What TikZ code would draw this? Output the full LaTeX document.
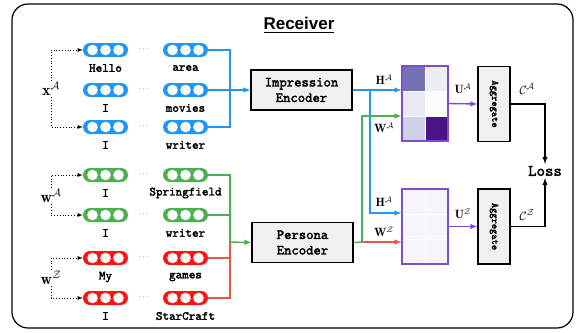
\documentclass[tikz,border=0pt]{standalone}
\usepackage{amsfonts, amsmath, amssymb}
\usepackage{fontspec}
\newfontfamily\titlefont{Liberation Sans}
\setmonofont{lmmono10-regular}[Extension=.otf, BoldFont=lmmono10-regular, BoldFeatures={FakeBold=2.2}]
\usepackage{tikz}
\usetikzlibrary{arrows,calc}

\definecolor{tokblue}{RGB}{33,150,243}
\definecolor{tokgreen}{RGB}{76,175,80}
\definecolor{tokred}{RGB}{255,20,20}
\definecolor{linered}{RGB}{240,85,74}
\definecolor{mpurple}{RGB}{123,79,201}
\definecolor{encgray}{RGB}{240,240,240}
\definecolor{zcell}{RGB}{245,244,250}

\tikzset{
  pill/.style={rectangle, rounded corners=7pt, minimum width=45pt, minimum height=14pt, inner sep=0pt, fill=#1},
  toklabel/.style={font=\fontsize{12.5}{12.5}\selectfont\ttfamily\bfseries, inner sep=0pt},
  encoder/.style={draw, line width=1.2pt, fill=encgray, minimum width=101pt, minimum height=40pt, align=center,
    font=\fontsize{14}{15.5}\selectfont\ttfamily\bfseries},
  aggbox/.style={draw, line width=1.2pt, fill=encgray, minimum width=32pt, minimum height=75pt, inner sep=0pt},
  matbox/.style={draw=mpurple, line width=1.2pt, minimum width=46pt, minimum height=75pt, inner sep=0pt},
  conn/.style={line width=1.4pt},
  bracket/.style={dotted, line width=0.8pt},
  mlabel/.style={font=\fontsize{12}{12}\selectfont, inner sep=1pt},
  vlabel/.style={font=\fontsize{16}{16}\selectfont, inner sep=1pt, fill=white},
}

% one token vector: name, x, y, colour
\newcommand{\tokvec}[4]{
  \node[pill=#4] (#1) at (#2,#3) {};
  \foreach \dx in {-13,0,13}
    \fill[white] ($(#1)+(\dx,0)$) circle (5.3);
}

\begin{document}
\begin{tikzpicture}[x=1pt,y=-1pt,>=latex]
\useasboundingbox (0,0) rectangle (577,332);
\draw[line width=1.2pt, rounded corners=16pt] (12,4) rectangle (573,328);
\node[font=\fontsize{17}{17}\selectfont\titlefont\bfseries] (title) at (299,25) {\underline{Receiver}};

% token rows
\tokvec{b1l}{105.5}{50}{tokblue}   \tokvec{b1r}{185.5}{50}{tokblue}
\tokvec{b2l}{105.5}{90}{tokblue}   \tokvec{b2r}{185.5}{90}{tokblue}
\tokvec{b3l}{105.5}{127}{tokblue}  \tokvec{b3r}{185.5}{127}{tokblue}
\tokvec{g1l}{105.5}{175}{tokgreen} \tokvec{g1r}{185.5}{175}{tokgreen}
\tokvec{g2l}{105.5}{215}{tokgreen} \tokvec{g2r}{185.5}{215}{tokgreen}
\tokvec{r1l}{105.5}{258}{tokred}   \tokvec{r1r}{185.5}{258}{tokred}
\tokvec{r2l}{105.5}{298}{tokred}   \tokvec{r2r}{185.5}{298}{tokred}
\foreach \y in {50,90,127,175,215,258,298}
  \node[font=\scriptsize, inner sep=0pt] at (144,\y-1) {$\cdots$};

\node[toklabel] (t1l) at (105.5,68) {Hello};   \node[toklabel] (t1r) at (185.5,68) {area};
\node[toklabel] (t2l) at (105.5,108) {I};      \node[toklabel] (t2r) at (185.5,108) {movies};
\node[toklabel] (t3l) at (105.5,145) {I};      \node[toklabel] (t3r) at (185.5,145) {writer};
\node[toklabel] (t4l) at (105.5,193) {I};      \node[toklabel] (t4r) at (185.5,193) {Springfield};
\node[toklabel] (t5l) at (105.5,233) {I};      \node[toklabel] (t5r) at (185.5,233) {writer};
\node[toklabel] (t6l) at (105.5,277) {My};     \node[toklabel] (t6r) at (185.5,277) {games};
\node[toklabel] (t7l) at (105.5,316) {I};      \node[toklabel] (t7r) at (185.5,316) {StarCraft};

% input brackets
\node[vlabel] (xA) at (51,89) {$\mathbf{x}^{\mathcal{A}}$};
\node[vlabel] (wA) at (51,196) {$\mathbf{w}^{\mathcal{A}}$};
\node[vlabel] (wZ) at (51,278) {$\mathbf{w}^{\mathcal{Z}}$};
\draw[bracket,->] (xA) |- (b1l.west);
\draw[bracket,->] (xA) |- (b3l.west);
\draw[bracket,->] (wA) |- (g1l.west);
\draw[bracket,->] (wA) |- (g2l.west);
\draw[bracket,->] (wZ) |- (r1l.west);
\draw[bracket,->] (wZ) |- (r2l.west);

% encoders
\node[encoder] (encI) at (301.5,90) {Impression\\Encoder};
\node[encoder] (encP) at (302.5,242.5) {Persona\\Encoder};

\coordinate (jI) at (230,90);
\coordinate (jP) at (230,242);
\draw[conn,tokblue] (b1r.east) -| (jI);
\draw[conn,tokblue] (b3r.east) -| (jI);
\draw[conn,tokblue,->] (b2r.east) -- (encI.west);
\draw[conn,linered] (r1r.east) -| (jP);
\draw[conn,linered] (r2r.east) -| (jP);
\draw[conn,tokgreen] (g1r.east) -| (jP);
\draw[conn,tokgreen] (g2r.east) -| (jP);
\draw[conn,tokgreen,->] (jP) -- (encP.west);

% matrices
\foreach \c/\x/\y in {117 112 179/402/66, 238 237 245/425/66,
                      233 232 243/402/91, 251 250 253/425/91,
                      208 208 230/402/116, 74 20 134/425/116}{
  \definecolor{cellc}{RGB}{\c}
  \fill[cellc, draw=white, line width=0.8pt] (\x,\y) rectangle ++(23,25);
}
\foreach \x in {402,425}
  \foreach \y in {189,214,239}
    \fill[zcell, draw=white, line width=0.8pt] (\x,\y) rectangle ++(23,25);
\node[matbox] (mA) at (425,103.5) {};
\node[matbox] (mZ) at (425,226.5) {};

% encoder outputs
\coordinate (hs) at (370,90);
\coordinate (ws) at (362,242);
\draw[conn,tokblue,->] (encI.east) -- (encI.east -| mA.west);
\draw[conn,tokblue,->] (hs) |- (mZ.west |- 0,213);
\draw[conn,tokgreen] (encP.east) -- (ws);
\draw[conn,tokgreen,->] (ws) |- (mA.west |- 0,116);
\draw[conn,linered,->] (ws) -- (ws -| mZ.west);
\node[mlabel] (hA1) at (384,80) {$\mathbf{H}^{\mathcal{A}}$};
\node[mlabel] (wA1) at (384,128) {$\mathbf{W}^{\mathcal{A}}$};
\node[mlabel] (hA2) at (384,202) {$\mathbf{H}^{\mathcal{A}}$};
\node[mlabel] (wZ1) at (384,232) {$\mathbf{W}^{\mathcal{Z}}$};

% aggregation
\node[aggbox] (aggA) at (494,104) {};
\node[aggbox] (aggZ) at (494,226.5) {};
\node[font=\fontsize{10}{10}\selectfont\ttfamily\bfseries, rotate=-90] at (aggA) {Aggregate};
\node[font=\fontsize{10}{10}\selectfont\ttfamily\bfseries, rotate=-90] at (aggZ) {Aggregate};
\draw[conn,mpurple,->] (mA.east) -- (aggA.west);
\draw[conn,mpurple,->] (mZ.east) -- (aggZ.west);
\node[mlabel] (uA) at (463,89) {$\mathbf{U}^{\mathcal{A}}$};
\node[mlabel] (uZ) at (463,214) {$\mathbf{U}^{\mathcal{Z}}$};

\node[font=\fontsize{16}{16}\selectfont\ttfamily\bfseries, inner sep=2pt] (loss) at (545,171) {Loss};
\draw[conn,->] (aggA.east) -| (loss.north);
\draw[conn,->] (aggZ.east) -| (loss.south);
\node[mlabel, font=\fontsize{13}{13}\selectfont] (cA) at (527,89) {$\mathcal{C}^{\mathcal{A}}$};
\node[mlabel, font=\fontsize{13}{13}\selectfont] (cZ) at (527,215) {$\mathcal{C}^{\mathcal{Z}}$};
\end{tikzpicture}
\end{document}
